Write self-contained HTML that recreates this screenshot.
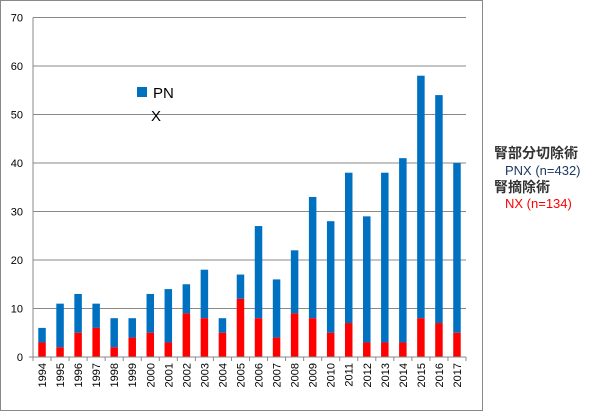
<!DOCTYPE html>
<html><head><meta charset="utf-8"><style>
body{margin:0;background:#fff;font-family:"Liberation Sans","Noto Sans CJK JP",sans-serif}
svg{display:block}
</style></head><body>
<svg width="602" height="412">
<rect x="0.5" y="0.5" width="482" height="410" fill="#fff" stroke="#888"/>
<g id="grid"></g><g id="bars"></g><g id="axes"></g>
<rect x="137" y="87" width="10" height="10" fill="#0070C0"/>
<text x="153" y="98" font-size="15">PN</text>
<text x="151" y="121" font-size="15">X</text>
<text x="494" y="158" font-size="14" font-weight="bold" fill="#333">腎部分切除術</text>
<text x="505" y="175" font-size="13" fill="#1F3864">PNX (n=432)</text>
<text x="494" y="192" font-size="14" font-weight="bold" fill="#333">腎摘除術</text>
<text x="505" y="208" font-size="13" fill="#ff0000">NX (n=134)</text>
</svg>
<script>
const years=["1994","1995","1996","1997","1998","1999","2000","2001","2002","2003","2004","2005","2006","2007","2008","2009","2010","2011","2012","2013","2014","2015","2016","2017"];
const totals=[6,11,13,11,8,8,13,14,15,18,8,17,27,16,22,33,28,38,29,38,41,58,54,40];
const nxValues=[3,2,5,6,2,4,5,3,9,8,5,12,8,4,9,8,5,7,3,3,3,8,7,5];
const yTicks=[0,10,20,30,40,50,60,70];
const NS="http://www.w3.org/2000/svg";
const x0=33,x1=466,y0=357,yTop=17.5,ymax=70;
const bw=(x1-x0)/years.length;
const y=v=>y0-(v/ymax)*(y0-yTop);
const xc=i=>x0+bw*(i+0.5);
function mk(tag,at,parent){const e=document.createElementNS(NS,tag);for(const k in at)e.setAttribute(k,at[k]);document.getElementById(parent).appendChild(e);return e;}
yTicks.forEach(t=>{
 const l=mk('line',{x1:x0,x2:x1,y1:y(t),y2:y(t),stroke:'#888','stroke-width':1},'grid');
 
 
 const tx=mk('text',{x:23,y:y(t)+4,'font-size':11,'text-anchor':'end',fill:'#000'},'axes');
 tx.textContent=t;
 
 
});
years.forEach((yr,i)=>{
 const w=7.5,bx=xc(i)-w/2;
 const b=mk('rect',{x:bx,y:y(totals[i]),width:w,height:y(nxValues[i])-y(totals[i]),fill:'#0070C0'},'bars');
 
 
 const r=mk('rect',{x:bx,y:y(nxValues[i]),width:w,height:y0-y(nxValues[i]),fill:'#ff0000'},'bars');
 
 
 const tk=mk('line',{x1:x0+bw*i,x2:x0+bw*i,y1:y0,y2:y0+4,stroke:'#888'},'axes');
 
 
 const tx=mk('text',{x:0,y:0,'font-size':11,'text-anchor':'end',transform:`translate(${xc(i)+4},${y0+6}) rotate(-90)`},'axes');
 tx.textContent=yr;
 
 
});
const ax=mk('line',{x1:x0,x2:x0,y1:yTop,y2:y0,stroke:'#888'},'axes');


const xa=mk('line',{x1:x0-4,x2:x1,y1:y0,y2:y0,stroke:'#888'},'axes');


const last=mk('line',{x1:x1,x2:x1,y1:y0,y2:y0+4,stroke:'#888'},'axes');


</script>
</body></html>
